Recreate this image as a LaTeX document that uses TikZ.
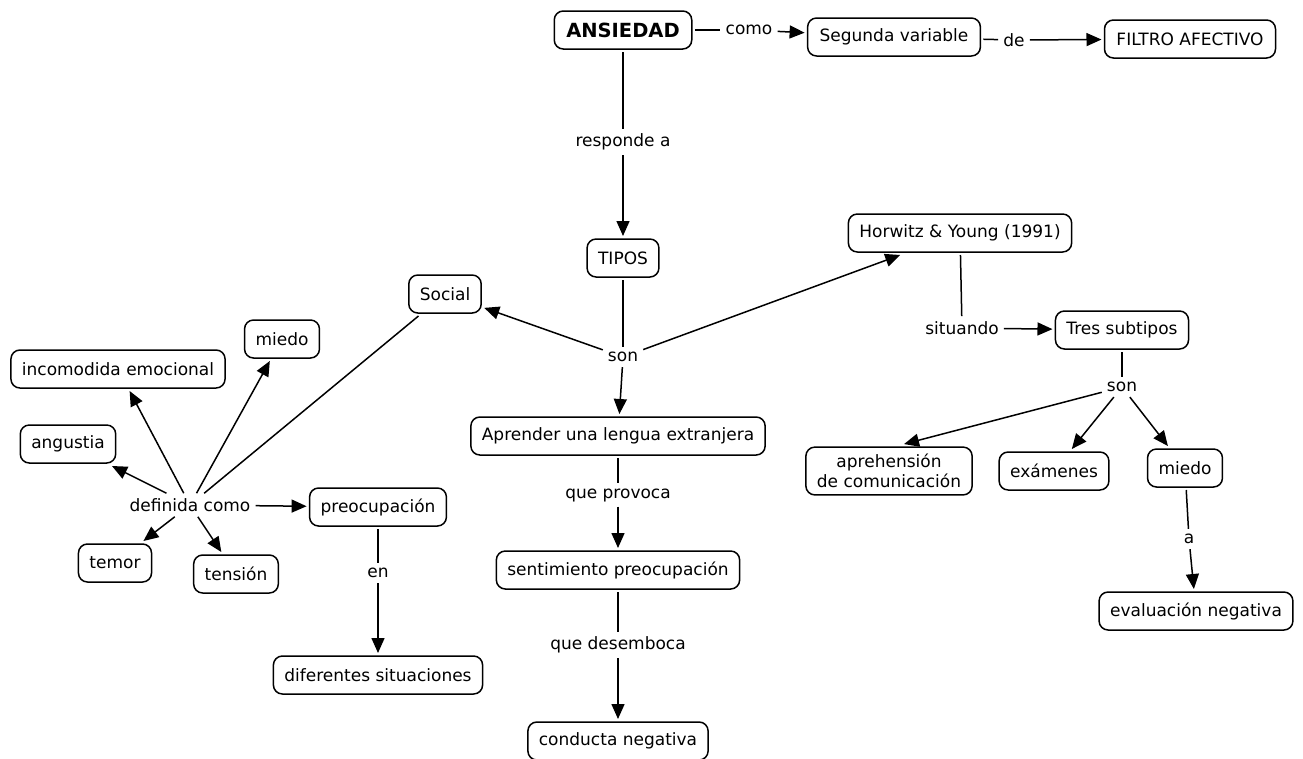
\documentclass[tikz,border=0pt]{standalone}
\usepackage{fontspec}
\setmainfont{DejaVu Sans}
\usetikzlibrary{arrows.meta}
\newcommand\mapfont{\fontsize{17}{20}\selectfont}
\begin{document}
\begin{tikzpicture}[x=1pt,y=-1pt,
  concept/.style={draw, line width=1.5pt, rounded corners=9pt, inner xsep=11pt,
    inner ysep=4pt, minimum height=38pt, font=\mapfont, outer sep=3pt, align=center},
  phrase/.style={font=\mapfont, inner sep=5pt},
  conn/.style={line width=1.5pt},
  arr/.style={conn, -{Triangle[length=15pt,width=13pt]}},
]
\useasboundingbox (0,0) rectangle (1303,758);

% concepts
\node[concept, font=\fontsize{19.5}{22}\selectfont\bfseries, inner xsep=12pt] (ans) at (623,30) {ANSIEDAD};
\node[concept, inner xsep=12pt] (seg) at (894,37) {Segunda variable};
\node[concept, inner xsep=12pt] (fil) at (1190,39) {FILTRO AFECTIVO};
\node[concept] (tip) at (623,258) {TIPOS};
\node[concept] (soc) at (445,294) {Social};
\node[concept] (hor) at (960,233) {Horwitz \& Young (1991)};
\node[concept] (tres) at (1122,330) {Tres subtipos};
\node[concept] (apr) at (618,436) {Aprender una lengua extranjera};
\node[concept] (sen) at (618,570) {sentimiento preocupación};
\node[concept] (con) at (618,741) {conducta negativa};
\node[concept, inner ysep=7pt] (aph) at (889,471) {aprehensión\\de comunicación};
\node[concept] (exa) at (1054,471) {exámenes};
\node[concept] (mie2) at (1185,468) {miedo};
\node[concept] (eva) at (1196,611) {evaluación negativa};
\node[concept] (inc) at (118,369) {incomodida emocional};
\node[concept] (mie) at (282,339) {miedo};
\node[concept] (ang) at (68,444) {angustia};
\node[concept] (pre) at (378,507) {preocupación};
\node[concept] (tem) at (115,563) {temor};
\node[concept] (ten) at (236,574) {tensión};
\node[concept] (dif) at (378,675) {diferentes situaciones};

% linking phrases
\node[phrase] (como) at (749,30) {como};
\node[phrase] (de) at (1014,40) {de};
\node[phrase] (resp) at (623,142) {responde a};
\node[phrase] (son) at (623,357) {son};
\node[phrase] (sit) at (962,328) {situando};
\node[phrase] (son2) at (1122,387) {son};
\node[phrase] (a) at (1189,539) {a};
\node[phrase] (prov) at (618,495) {que provoca};
\node[phrase] (des) at (618,645) {que desemboca};
\node[phrase] (def) at (190,505) {definida como};
\node[phrase] (en) at (378,573) {en};

% connectors
\draw[conn] (ans) -- (como);
\draw[arr] (como) -- (seg);
\draw[conn] (seg) -- (de);
\draw[arr] (de) -- (fil);
\draw[conn] (ans) -- (resp);
\draw[arr] (resp) -- (tip);
\draw[conn] (tip) -- (son);
\draw[arr] (son) -- (soc);
\draw[arr] (son) -- (apr);
\draw[arr] (son) -- (hor);
\draw[conn] (hor) -- (sit);
\draw[arr] (sit) -- (tres);
\draw[conn] (tres) -- (son2);
\draw[arr] (son2) -- ([xshift=15pt]aph.north);
\draw[arr] (son2) -- (exa);
\draw[arr] (son2) -- (mie2);
\draw[conn] (mie2) -- (a);
\draw[arr] (a) -- (eva);
\draw[conn] (apr) -- (prov);
\draw[arr] (prov) -- (sen);
\draw[conn] (sen) -- (des);
\draw[arr] (des) -- (con);
\draw[conn] (soc) -- (def);
\draw[arr] (def) -- (inc);
\draw[arr] (def) -- (mie);
\draw[arr] (def) -- (ang);
\draw[arr] (def) -- (pre);
\draw[arr] (def) -- (tem);
\draw[arr] (def) -- (ten);
\draw[conn] (pre) -- (en);
\draw[arr] (en) -- (dif);
\end{tikzpicture}
\end{document}
